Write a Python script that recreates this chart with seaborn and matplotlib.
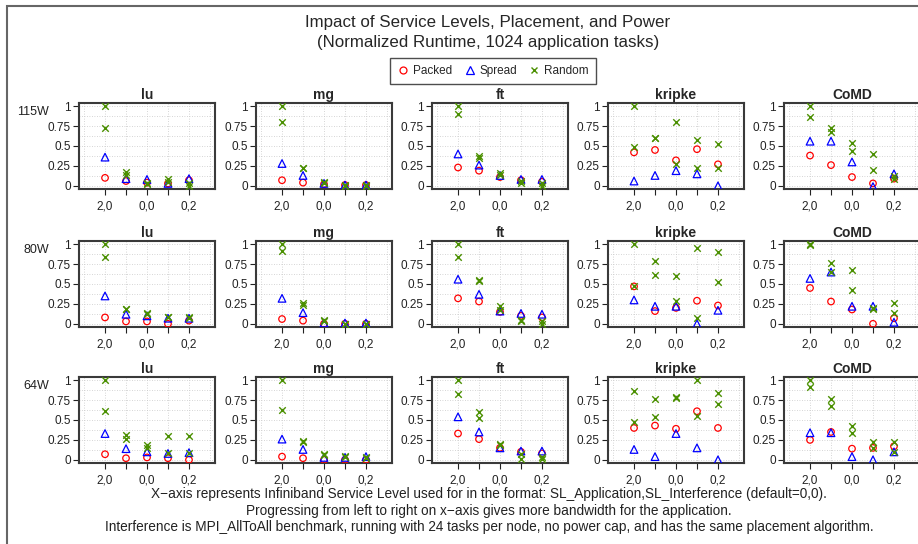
import numpy as np
import pandas as pd
import seaborn as sns
import matplotlib.pyplot as plt
from matplotlib.lines import Line2D
from matplotlib.patches import Rectangle

# Values (normalized runtime), one list per panel
apps = ["lu", "mg", "ft", "kripke", "CoMD"]
powers = ["115W", "80W", "64W"]
sl_labels = ["2,0", "1,0", "0,0", "0,1", "0,2"]

# packed[power][app] -> 5 values, spread same, random has two runs
packed = {
    "115W": {"lu": [0.10, 0.06, 0.04, 0.03, 0.07], "mg": [0.07, 0.04, 0.02, 0.01, 0.01],
             "ft": [0.23, 0.19, 0.11, 0.07, 0.05], "kripke": [0.42, 0.45, 0.32, 0.46, 0.27],
             "CoMD": [0.38, 0.26, 0.11, 0.03, 0.09]},
    "80W": {"lu": [0.08, 0.03, 0.03, 0.00, 0.04], "mg": [0.06, 0.04, 0.00, 0.00, 0.00],
            "ft": [0.32, 0.28, 0.15, 0.10, 0.08], "kripke": [0.47, 0.16, 0.20, 0.29, 0.23],
            "CoMD": [0.45, 0.28, 0.18, 0.00, 0.07]},
    "64W": {"lu": [0.07, 0.02, 0.03, 0.02, 0.00], "mg": [0.04, 0.02, 0.00, 0.00, 0.00],
            "ft": [0.33, 0.26, 0.15, 0.10, 0.08], "kripke": [0.40, 0.43, 0.39, 0.61, 0.40],
            "CoMD": [0.25, 0.35, 0.14, 0.15, 0.17]},
}
spread = {
    "115W": {"lu": [0.36, 0.09, 0.08, 0.03, 0.09], "mg": [0.28, 0.13, 0.03, 0.01, 0.01],
             "ft": [0.40, 0.26, 0.13, 0.08, 0.08], "kripke": [0.06, 0.13, 0.19, 0.15, 0.00],
             "CoMD": [0.56, 0.56, 0.30, -0.01, 0.15]},
    "80W": {"lu": [0.35, 0.12, 0.10, 0.07, 0.07], "mg": [0.32, 0.14, 0.01, 0.01, 0.01],
            "ft": [0.56, 0.37, 0.16, 0.13, 0.12], "kripke": [0.30, 0.22, 0.22, 0.00, 0.17],
            "CoMD": [0.57, 0.65, 0.22, 0.22, 0.02]},
    "64W": {"lu": [0.33, 0.14, 0.10, 0.08, 0.09], "mg": [0.26, 0.13, 0.03, 0.03, 0.04],
            "ft": [0.54, 0.35, 0.15, 0.11, 0.11], "kripke": [0.13, 0.04, 0.33, 0.15, 0.00],
            "CoMD": [0.34, 0.34, 0.04, 0.00, 0.10]},
}
random_a = {
    "115W": {"lu": [1.00, 0.17, 0.04, 0.08, 0.04], "mg": [1.00, 0.23, 0.05, 0.01, 0.01],
             "ft": [1.00, 0.38, 0.16, 0.06, 0.03], "kripke": [1.00, 0.60, 0.80, 0.58, 0.52],
             "CoMD": [1.00, 0.72, 0.54, 0.40, 0.12]},
    "80W": {"lu": [1.00, 0.19, 0.13, 0.09, 0.09], "mg": [1.00, 0.26, 0.05, 0.00, 0.00],
            "ft": [1.00, 0.54, 0.22, 0.05, 0.04], "kripke": [1.00, 0.79, 0.60, 0.95, 0.90],
            "CoMD": [1.00, 0.77, 0.67, 0.20, 0.26]},
    "64W": {"lu": [1.00, 0.31, 0.18, 0.30, 0.30], "mg": [1.00, 0.24, 0.07, 0.05, 0.04],
            "ft": [1.00, 0.60, 0.20, 0.07, 0.04], "kripke": [0.87, 0.77, 0.79, 1.00, 0.84],
            "CoMD": [1.00, 0.77, 0.42, 0.22, 0.23]},
}
random_b = {
    "115W": {"lu": [0.73, 0.13, 0.02, 0.05, 0.00], "mg": [0.80, 0.22, 0.03, 0.00, 0.00],
             "ft": [0.90, 0.35, 0.14, 0.03, 0.00], "kripke": [0.49, 0.60, 0.28, 0.23, 0.23],
             "CoMD": [0.86, 0.68, 0.44, 0.20, 0.09]},
    "80W": {"lu": [0.84, 0.18, 0.12, 0.08, 0.07], "mg": [0.92, 0.24, 0.04, 0.00, 0.00],
            "ft": [0.84, 0.55, 0.17, 0.03, 0.00], "kripke": [0.47, 0.61, 0.29, 0.07, 0.52],
            "CoMD": [0.99, 0.65, 0.42, 0.19, 0.14]},
    "64W": {"lu": [0.61, 0.26, 0.15, 0.09, 0.08], "mg": [0.62, 0.22, 0.06, 0.04, 0.02],
            "ft": [0.83, 0.53, 0.18, 0.01, 0.01], "kripke": [0.47, 0.54, 0.78, 0.55, 0.70],
            "CoMD": [0.92, 0.68, 0.34, 0.15, 0.10]},
}

# long table
rows = []
for p in powers:
    for a in apps:
        for i in range(5):
            rows.append((p, a, i + 1, "Packed", packed[p][a][i]))
            rows.append((p, a, i + 1, "Spread", spread[p][a][i]))
            rows.append((p, a, i + 1, "Random", random_a[p][a][i]))
            rows.append((p, a, i + 1, "Random", random_b[p][a][i]))
df = pd.DataFrame(rows, columns=["power", "app", "pos", "placement", "runtime"])

sns.set_theme(style="white")
plt.rcParams["font.family"] = ["Liberation Sans", "DejaVu Sans"]

colors = {"Packed": "#ff0000", "Spread": "#0000ff", "Random": "#4a8f00"}
markers = {"Packed": "o", "Spread": "^", "Random": "x"}
sizes = {"Packed": 22, "Spread": 30, "Random": 22}

W, H = 918, 544
fig = plt.figure(figsize=(W / 100, H / 100), dpi=100)

col_left = [79, 256, 432, 608, 784]
row_top = [103, 241, 377]
aw, ah = 136, 86

for r, p in enumerate(powers):
    for c, a in enumerate(apps):
        ax = fig.add_axes([col_left[c] / W, 1 - (row_top[r] + ah) / H, aw / W, ah / H])
        sub = df[(df.power == p) & (df.app == a)]
        for pl in ["Packed", "Spread", "Random"]:
            d = sub[sub.placement == pl]
            if pl == "Random":
                sns.scatterplot(data=d, x="pos", y="runtime", ax=ax, marker="x",
                                color=colors[pl], s=sizes[pl], linewidth=1.0, zorder=3)
            else:
                sns.scatterplot(data=d, x="pos", y="runtime", ax=ax, marker=markers[pl],
                                color=colors[pl], facecolor="none", edgecolor=colors[pl],
                                s=sizes[pl], linewidth=0.9, zorder=3)
        ax.set_xlim(-0.24, 6.24)
        ax.set_ylim(-0.04, 1.04)
        for gx in range(7):
            ax.axvline(gx, color="#c8c8c8", lw=0.6, ls=(0, (1, 2)), zorder=0)
        for gy in np.arange(0, 1.01, 0.125):
            ax.axhline(gy, color="#c8c8c8", lw=0.6, ls=(0, (1, 2)), zorder=0)
        ax.set_xticks(range(1, 6))
        ax.set_xticklabels([lab if i % 2 == 0 else "" for i, lab in enumerate(sl_labels)])
        ax.set_yticks([0, 0.25, 0.5, 0.75, 1])
        ax.set_yticklabels(["0", "0.25", "0.5", "0.75", "1"])
        ax.tick_params(axis="both", direction="out", length=4, width=0.8, color="#222222",
                       labelsize=8.5, labelcolor="#222222", left=True, bottom=True, pad=2)
        ax.tick_params(axis="x", pad=4)
        ax.set_xlabel("")
        ax.set_ylabel("")
        for s in ax.spines.values():
            s.set_color("#3a3a3a")
            s.set_linewidth(1.5)
        ax.set_title(a, fontweight="bold", fontsize=10, pad=3)
    fig.text(49 / W, 1 - (row_top[r] + 9) / H, p, ha="right", va="center",
             fontsize=9, color="#222222")

fig.text(488 / W, 1 - 22 / H, "Impact of Service Levels, Placement, and Power",
         ha="center", va="center", fontsize=12.2)
fig.text(488 / W, 1 - 43 / H, "(Normalized Runtime, 1024 application tasks)",
         ha="center", va="center", fontsize=12.2)

handles = [Line2D([], [], ls="none", marker="o", mfc="none", mec=colors["Packed"], ms=5, mew=0.9),
           Line2D([], [], ls="none", marker="^", mfc="none", mec=colors["Spread"], ms=5.5, mew=0.9),
           Line2D([], [], ls="none", marker="x", color=colors["Random"], ms=5, mew=1.0)]
leg = fig.legend(handles, ["Packed", "Spread", "Random"], loc="center",
                 bbox_to_anchor=(493 / W, 1 - 71 / H), ncol=3, fancybox=False,
                 frameon=True, fontsize=8.5, handletextpad=0.3, columnspacing=1.0,
                 handlelength=1.0, borderpad=0.6)
leg.get_frame().set_edgecolor("#222222")
leg.get_frame().set_linewidth(1.0)

notes = ["X\u2212axis represents Infiniband Service Level used for in the format: SL_Application,SL_Interference (default=0,0).",
         "Progressing from left to right on x\u2212axis gives more bandwidth for the application.",
         "Interference is MPI_AllToAll benchmark, running with 24 tasks per node, no power cap, and has the same placement algorithm."]
for k, line in enumerate(notes):
    fig.text(489 / W, 1 - (494 + 16.5 * k) / H, line, ha="center", va="center",
             fontsize=9.8, color="#222222")

# outer frame of the original figure
fig.patches.append(Rectangle((7 / W, -0.1), 1.2, 1 - 6 / H + 0.1, transform=fig.transFigure,
                             fill=False, edgecolor="#666666", lw=1.5))

fig.savefig("out.png", dpi=100)
